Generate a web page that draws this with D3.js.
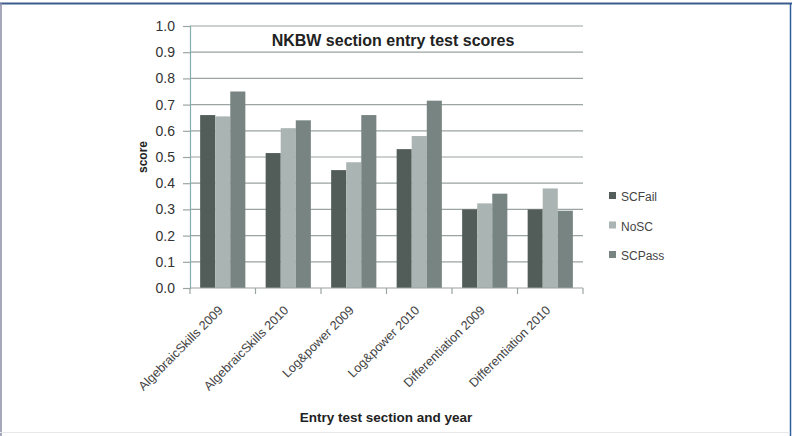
<!DOCTYPE html>
<html>
<head>
<meta charset="utf-8">
<script src="https://cdn.jsdelivr.net/npm/d3@7"></script>
<style>
  body { margin: 0; background: #fff; }
  svg { display: block; font-family: "Liberation Sans", Arial, sans-serif; }
</style>
</head>
<body>
<svg id="chart" width="801" height="436"></svg>
<script>
const categories = ["AlgebraicSkills 2009", "AlgebraicSkills 2010", "Log&power 2009",
                    "Log&power 2010", "Differentiation 2009", "Differentiation 2010"];
const seriesNames = ["SCFail", "NoSC", "SCPass"];
const scFail = [0.66, 0.515, 0.45, 0.53, 0.30, 0.30];
const noSC   = [0.655, 0.61, 0.48, 0.58, 0.323, 0.38];
const scPass = [0.75, 0.64, 0.66, 0.715, 0.36, 0.295];
const yTicks = [0, 0.1, 0.2, 0.3, 0.4, 0.5, 0.6, 0.7, 0.8, 0.9, 1.0];

const colors = { SCFail: "#525c59", NoSC: "#aab4b2", SCPass: "#778481" };
const values = { SCFail: scFail, NoSC: noSC, SCPass: scPass };

const svg = d3.select("#chart");
const plot = { left: 190, right: 583, top: 26, bottom: 288 };

// frame round the figure
svg.append("line").attr("x1", 0).attr("x2", 792).attr("y1", 3.5).attr("y2", 3.5)
    .attr("stroke", "#3d5d8c").attr("stroke-width", 2);
svg.append("line").attr("x1", 1).attr("x2", 1).attr("y1", 3).attr("y2", 436)
    .attr("stroke", "#8a8aa6").attr("stroke-width", 1.5);
svg.append("line").attr("x1", 790.5).attr("x2", 790.5).attr("y1", 3).attr("y2", 436)
    .attr("stroke", "#2f5f9a").attr("stroke-width", 1.5);
svg.append("line").attr("x1", 0).attr("x2", 790).attr("y1", 432.5).attr("y2", 432.5)
    .attr("stroke", "#e6e8ea").attr("stroke-width", 1);

const x0 = d3.scaleBand().domain(categories).range([plot.left, plot.right]).paddingInner(0.31).paddingOuter(0.155);
const x1 = d3.scaleBand().domain(seriesNames).range([0, x0.bandwidth()]);
const y = d3.scaleLinear().domain([0, 1]).range([plot.bottom, plot.top]);

// gridlines
svg.append("g").selectAll("line").data(yTicks.slice(1)).join("line")
    .attr("x1", plot.left).attr("x2", plot.right)
    .attr("y1", d => y(d)).attr("y2", d => y(d))
    .attr("stroke", "#9aa4a2").attr("stroke-width", 1.2);

// bars
const groups = svg.append("g").selectAll("g").data(categories).join("g")
    .attr("transform", d => `translate(${x0(d)},0)`);
groups.selectAll("rect")
    .data((c, i) => seriesNames.map(s => ({ s, v: values[s][i] })))
    .join("rect")
    .attr("x", d => x1(d.s))
    .attr("width", x1.bandwidth())
    .attr("y", d => y(d.v))
    .attr("height", d => y(0) - y(d.v))
    .attr("fill", d => colors[d.s]);

// y axis
const yAxis = svg.append("g").attr("transform", `translate(${plot.left},0)`)
    .call(d3.axisLeft(y).tickValues(yTicks).tickFormat(d3.format(".1f")).tickSize(7).tickPadding(8));
yAxis.select(".domain").attr("stroke", "#86aeae").attr("stroke-width", 1.2);
yAxis.selectAll(".tick line").attr("stroke", "#9aa4a2").attr("stroke-width", 1.2);
yAxis.selectAll("text").attr("font-size", 14).attr("fill", "#333").attr("font-family", "Liberation Sans, Arial, sans-serif");

// x axis
const bandStep = x0.step();
const xAxis = svg.append("g").attr("transform", `translate(0,${plot.bottom})`);
xAxis.append("line").attr("x1", plot.left).attr("x2", plot.right).attr("stroke", "#9aa4a2").attr("stroke-width", 1.2);
xAxis.selectAll(".xtick").data(d3.range(categories.length + 1)).join("line")
    .attr("x1", i => plot.left + i * bandStep).attr("x2", i => plot.left + i * bandStep)
    .attr("y1", 0).attr("y2", 6)
    .attr("stroke", "#9aa4a2").attr("stroke-width", 1.2);
xAxis.selectAll(".xlabel").data(categories).join("text")
    .attr("transform", d => `translate(${x0(d) + x0.bandwidth() / 2 + 1},${23}) rotate(-45)`)
    .attr("text-anchor", "end")
    .attr("font-size", 12.6)
    .attr("fill", "#444")
    .text(d => d);

// titles
svg.append("text").attr("x", 393).attr("y", 46).attr("text-anchor", "middle")
    .attr("font-size", 16).attr("font-weight", "bold").attr("fill", "#222")
    .text("NKBW section entry test scores");
svg.append("text").attr("transform", "translate(147,157) rotate(-90)").attr("text-anchor", "middle")
    .attr("font-size", 12).attr("font-weight", "bold").attr("fill", "#222")
    .text("score");
svg.append("text").attr("x", 386).attr("y", 422).attr("text-anchor", "middle")
    .attr("font-size", 13.5).attr("font-weight", "bold").attr("fill", "#222")
    .text("Entry test section and year");

// legend
const legend = svg.append("g").selectAll("g").data(seriesNames).join("g")
    .attr("transform", (d, i) => `translate(609,${201 + i * 29.5})`);
legend.append("rect").attr("x", 0).attr("y", -9).attr("width", 7).attr("height", 7)
    .attr("fill", d => colors[d]);
legend.append("text").attr("x", 12).attr("y", 0).attr("font-size", 12).attr("fill", "#444")
    .text(d => d);
</script>
</body>
</html>
